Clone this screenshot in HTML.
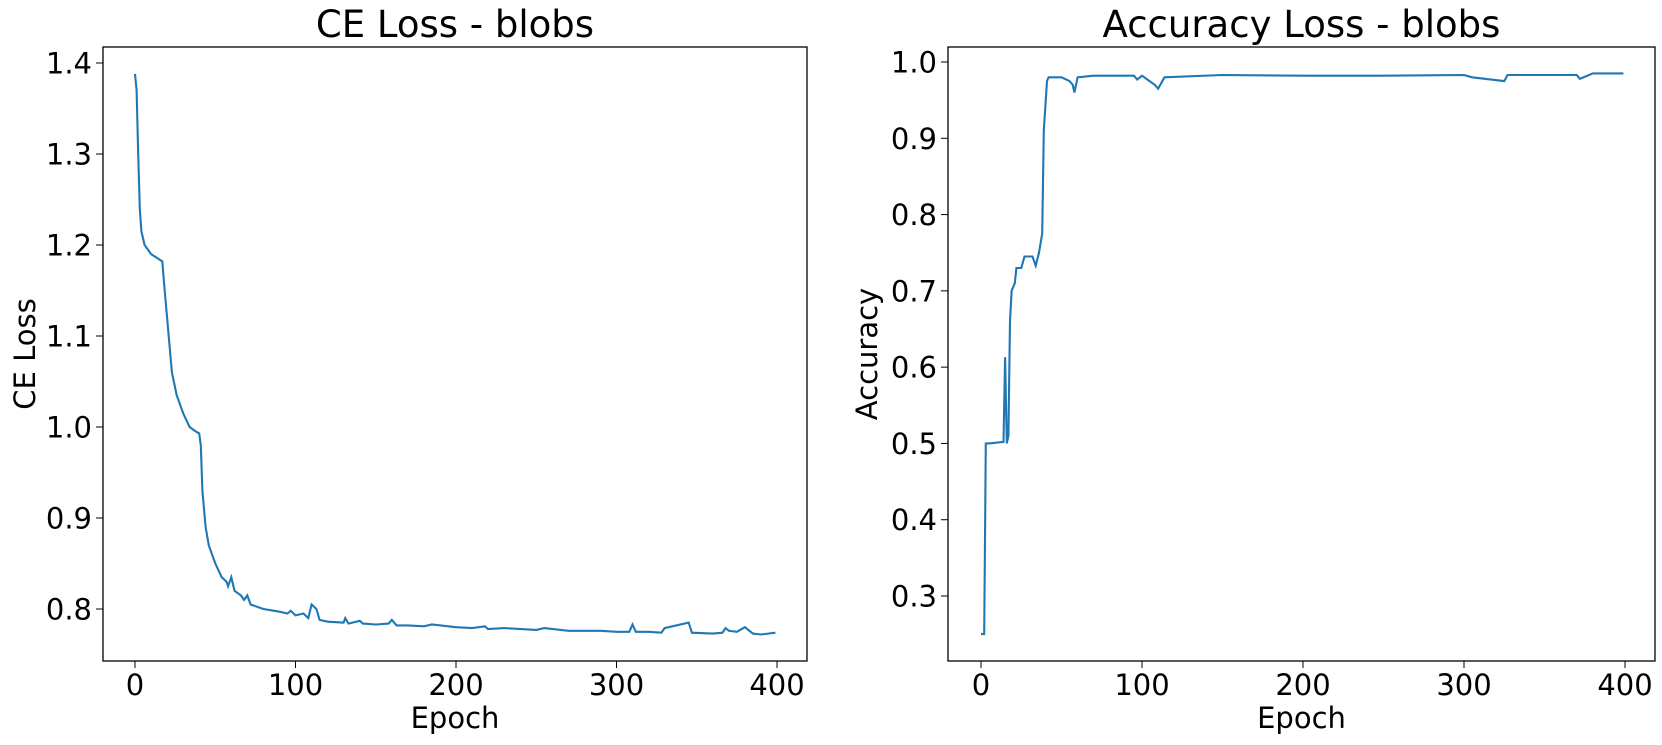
<!DOCTYPE html>
<html><head><meta charset="utf-8"><style>
body{margin:0;background:#fff;}
svg{display:block;font-family:"DejaVu Sans","Liberation Sans",sans-serif;}
</style></head><body>
<svg id="c" width="1662" height="745"></svg>
<script>
const lossEpochs=[0,1,2,3,4,6,10,17,18,20,23,26,30,34,38,40,41,42,44,46,50,54,57,58,60,62,66,68,70,72,80,90,95,97,100,105,108,110,113,115,120,130,131,133,140,142,150,158,160,163,170,180,185,200,210,218,220,230,250,255,270,290,300,308,310,312,320,328,330,345,347,360,366,368,370,375,380,385,390,399];
const lossValues=[1.388,1.37,1.30,1.24,1.215,1.20,1.19,1.182,1.16,1.12,1.06,1.035,1.015,1.0,0.995,0.993,0.98,0.93,0.89,0.87,0.85,0.835,0.83,0.825,0.835,0.82,0.815,0.81,0.815,0.805,0.80,0.797,0.795,0.798,0.793,0.795,0.79,0.805,0.80,0.788,0.786,0.785,0.79,0.784,0.787,0.784,0.783,0.784,0.788,0.782,0.782,0.781,0.783,0.78,0.779,0.781,0.778,0.779,0.777,0.779,0.776,0.776,0.775,0.775,0.783,0.775,0.775,0.774,0.779,0.785,0.774,0.773,0.774,0.779,0.776,0.775,0.78,0.773,0.772,0.774];
const accEpochs=[0,2,3,5,14,15,16,17,18,19,21,22,25,27,32,34,36,38,39,41,42,50,55,57,58,60,70,95,97,100,108,110,114,150,200,250,300,305,325,327,330,370,372,380,399];
const accValues=[0.25,0.25,0.50,0.50,0.502,0.613,0.50,0.51,0.66,0.70,0.71,0.73,0.73,0.745,0.745,0.733,0.75,0.775,0.91,0.975,0.98,0.98,0.975,0.97,0.96,0.98,0.982,0.982,0.977,0.982,0.97,0.965,0.98,0.983,0.982,0.982,0.983,0.98,0.975,0.983,0.983,0.983,0.978,0.985,0.985];
const xTicks=[0,100,200,300,400];
const lossTicks=[0.8,0.9,1.0,1.1,1.2,1.3,1.4];
const accTicks=[0.3,0.4,0.5,0.6,0.7,0.8,0.9,1.0];
const NS="http://www.w3.org/2000/svg";
const svg=document.getElementById('c');
function mk(t,a,p){const e=document.createElementNS(NS,t);for(const k in a)e.setAttribute(k,a[k]);(p||svg).appendChild(e);return e;}
const TOP=47,BOT=661;
function panel(o){
  const g=mk('g',{});
  
  
  const X=v=>o.x0+(v-0)*(o.x400-o.x0)/400;
  const Y=v=>o.yA+(v-o.vA)*(o.yB-o.yA)/(o.vB-o.vA);
  let d='';o.ex.forEach((e,i)=>{d+=(i?'L':'M')+X(e).toFixed(1)+','+Y(o.vals[i]).toFixed(1);});
  const ln=mk('path',{d:d,fill:'none',stroke:'#1f77b4','stroke-width':2.1},g);
  
  
  const fr=mk('rect',{x:o.L,y:TOP,width:o.R-o.L,height:BOT-TOP,fill:'none',stroke:'#000','stroke-width':1.3},g);
  
  
  xTicks.forEach(t=>{const x=X(t);mk('line',{x1:x,x2:x,y1:BOT,y2:BOT+7,stroke:'#000'},g);
    const tx=mk('text',{x:x,y:695,'font-size':29,'text-anchor':'middle'},g);tx.textContent=t;
    
    });
  o.ticks.forEach(t=>{const y=Y(t);mk('line',{x1:o.L-7,x2:o.L,y1:y,y2:y,stroke:'#000'},g);
    const tx=mk('text',{x:o.L-11,y:y+10.5,'font-size':29,'text-anchor':'end'},g);tx.textContent=t.toFixed(1);
    
    });
  const ti=mk('text',{x:(o.L+o.R)/2,y:37,'font-size':37,'text-anchor':'middle'},g);ti.textContent=o.title;
  
  
  const xl=mk('text',{x:(o.L+o.R)/2,y:728,'font-size':29,'text-anchor':'middle'},g);xl.textContent='Epoch';
  
  
  const yl=mk('text',{x:0,y:10,'font-size':29,'text-anchor':'middle',transform:'translate('+o.ylx+',354) rotate(-90)'},g);yl.textContent=o.ylabel;
  
  
}
panel({name:'ce-loss-panel',L:103,R:807,x0:135,x400:777,vA:1.4,yA:63,vB:0.8,yB:609,ex:lossEpochs,vals:lossValues,ticks:lossTicks,title:'CE Loss - blobs',ylabel:'CE Loss',ylx:25});
panel({name:'accuracy-panel',L:948,R:1655,x0:981,x400:1625,vA:1.0,yA:62,vB:0.3,yB:596,ex:accEpochs,vals:accValues,ticks:accTicks,title:'Accuracy Loss - blobs',ylabel:'Accuracy',ylx:867});
</script>
</body></html>
